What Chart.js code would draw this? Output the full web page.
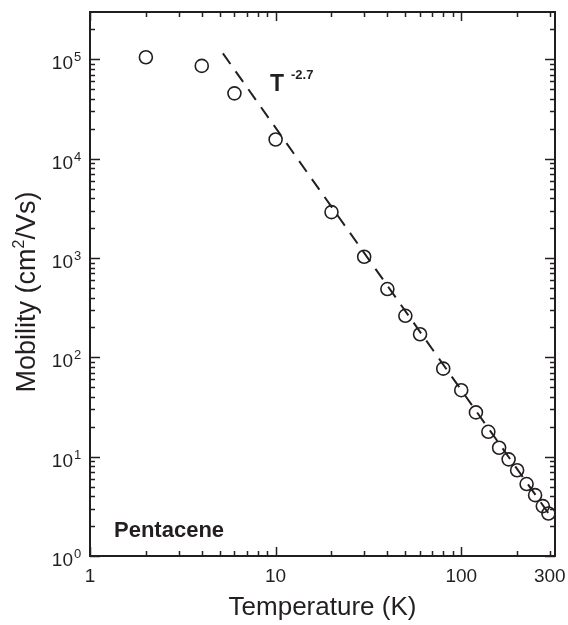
<!DOCTYPE html>
<html>
<head>
<meta charset="utf-8">
<script src="https://cdn.jsdelivr.net/npm/chart.js@4.4.1/dist/chart.umd.min.js"></script>
<style>
  body { margin: 0; background: #fff; }
  canvas { display: block; }
</style>
</head>
<body>
<canvas id="myChart" width="568" height="625"></canvas>
<script>
/* Data */

// measured mobility of pentacene vs temperature
const temperature = [2, 4, 6, 10, 20, 30, 40, 50, 60, 80, 100, 120, 140, 160, 180, 200, 225, 250, 275, 295];
const mobility = [1.05e5, 8.6e4, 4.55e4, 1.56e4, 2.9e3, 1.03e3, 487, 262, 171, 77, 46.7, 27.9, 17.8, 12.3, 9.4, 7.3, 5.3, 4.1, 3.18, 2.68];

// dashed T^-2.7 guide line, end points
const fitT = [5.2, 300];
const fitMobility = [1.15e5, 2.58];

// tick labels
const xTickValues = [1, 10, 100, 300];
const xTickLabels = ['1', '10', '100', '300'];
const yTickExponents = [0, 1, 2, 3, 4, 5];

const ink = '#231f20';
const fontFamily = '"Liberation Sans", Arial, Helvetica, sans-serif';

// frame, inward ticks and all the text
const framePlugin = {
    id: 'frame',
    afterDraw(chart) {
        const ctx = chart.ctx;
        const area = chart.chartArea;
        const xs = chart.scales.x;
        const ys = chart.scales.y;
        ctx.save();
        ctx.strokeStyle = ink;
        ctx.fillStyle = ink;

        // box
        ctx.lineWidth = 2;
        ctx.strokeRect(area.left, area.top, area.right - area.left, area.bottom - area.top);

        // ticks on all four sides, pointing in
        ctx.lineWidth = 1.5;
        const tick = (x1, y1, x2, y2) => {
            ctx.beginPath();
            ctx.moveTo(x1, y1);
            ctx.lineTo(x2, y2);
            ctx.stroke();
        };
        for (let d = 1; d <= 100; d *= 10) {
            for (let k = 1; k <= 9; k++) {
                const v = d * k;
                if (v > xs.max) break;
                const len = k === 1 ? 9 : 5;
                const px = Math.round(xs.getPixelForValue(v)) + 0.5;
                tick(px, area.bottom, px, area.bottom - len);
                tick(px, area.top, px, area.top + len);
            }
        }
        for (let d = 1; d <= 1e5; d *= 10) {
            for (let k = 1; k <= 9; k++) {
                const v = d * k;
                if (v >= ys.max) break;
                const len = k === 1 ? 10 : 5;
                const py = Math.round(ys.getPixelForValue(v)) + 0.5;
                tick(area.left, py, area.left + len, py);
                tick(area.right, py, area.right - len, py);
            }
        }

        // x tick labels
        ctx.font = `19px ${fontFamily}`;
        ctx.textAlign = 'center';
        ctx.textBaseline = 'alphabetic';
        xTickValues.forEach((v, i) => {
            ctx.fillText(xTickLabels[i], xs.getPixelForValue(v), 582);
        });

        // y tick labels as 10^n
        yTickExponents.forEach((n) => {
            const py = ys.getPixelForValue(Math.pow(10, n));
            ctx.font = `19px ${fontFamily}`;
            ctx.textAlign = 'right';
            ctx.fillText('10', 73, py + 10);
            ctx.font = `13px ${fontFamily}`;
            ctx.textAlign = 'left';
            ctx.fillText(String(n), 74, py + 2);
        });

        // x axis title
        ctx.font = `26px ${fontFamily}`;
        ctx.textAlign = 'center';
        ctx.fillText('Temperature (K)', (area.left + area.right) / 2, 615);

        // y axis title, rotated, with superscript 2
        ctx.save();
        ctx.translate(35, 292);
        ctx.rotate(-Math.PI / 2);
        const big = `27px ${fontFamily}`;
        const small = `16px ${fontFamily}`;
        const parts = [['Mobility (cm', big, 0], ['2', small, -11], ['/Vs)', big, 0]];
        let total = 0;
        parts.forEach((p) => { ctx.font = p[1]; total += ctx.measureText(p[0]).width; });
        let cx = -total / 2;
        ctx.textAlign = 'left';
        parts.forEach((p) => {
            ctx.font = p[1];
            ctx.fillText(p[0], cx, p[2]);
            cx += ctx.measureText(p[0]).width;
        });
        ctx.restore();

        // annotations
        ctx.textAlign = 'left';
        ctx.font = `bold 22px ${fontFamily}`;
        ctx.fillText('Pentacene', 114, 537);
        ctx.font = `bold 23px ${fontFamily}`;
        ctx.fillText('T', 270, 91);
        ctx.font = `bold 13px ${fontFamily}`;
        ctx.fillText('-2.7', 291, 79);

        ctx.restore();
    }
};

function drawChart() {
    const ctx = document.getElementById('myChart').getContext('2d');
    const points = temperature.map((t, i) => ({ x: t, y: mobility[i] }));
    const fitLine = fitT.map((t, i) => ({ x: t, y: fitMobility[i] }));
    new Chart(ctx, {
        type: 'scatter',
        data: {
            datasets: [
                {
                    label: 'T^-2.7',
                    data: fitLine,
                    showLine: true,
                    borderColor: ink,
                    borderWidth: 2,
                    borderDash: [13, 9],
                    pointRadius: 0,
                    fill: false
                },
                {
                    label: 'Pentacene',
                    data: points,
                    pointStyle: 'circle',
                    pointRadius: 6.5,
                    borderColor: ink,
                    borderWidth: 1.6,
                    backgroundColor: 'rgba(0,0,0,0)'
                }
            ]
        },
        options: {
            responsive: false,
            animation: false,
            devicePixelRatio: 1,
            layout: {
                padding: { left: 90, top: 12, right: 13, bottom: 69 }
            },
            plugins: {
                legend: { display: false },
                tooltip: { enabled: false }
            },
            scales: {
                x: { type: 'logarithmic', min: 1, max: 320, display: false },
                y: { type: 'logarithmic', min: 1, max: 3e5, display: false }
            }
        },
        plugins: [framePlugin]
    });
}

drawChart();
</script>
</body>
</html>
